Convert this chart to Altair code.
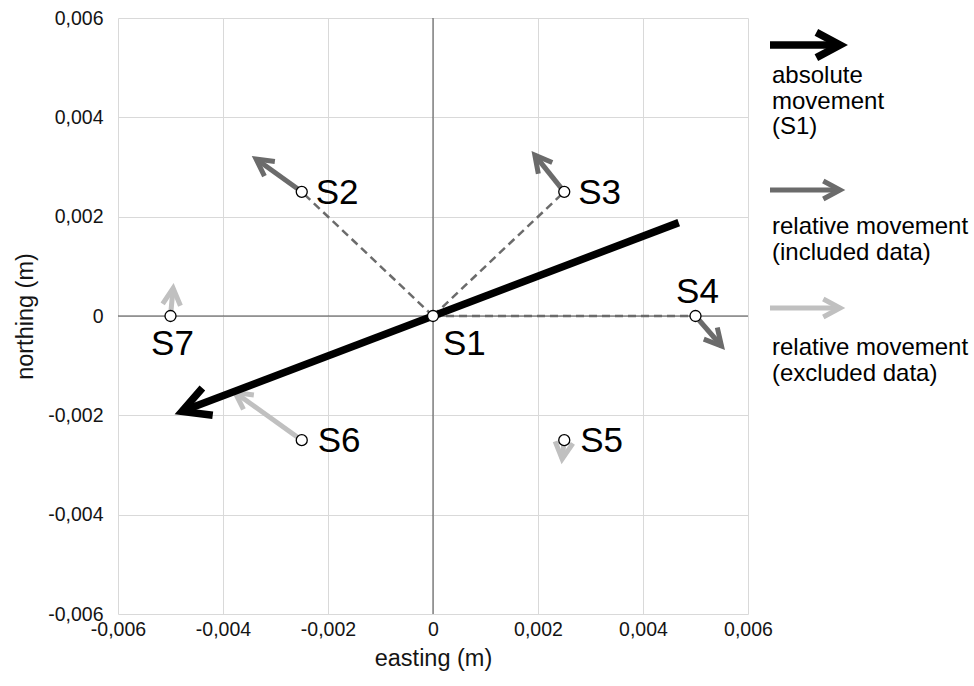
import altair as alt
import pandas as pd

# ---- data -------------------------------------------------------------
stations = ["S1", "S2", "S3", "S4", "S5", "S6", "S7"]
easting = [0.0, -0.0025, 0.0025, 0.005, 0.0025, -0.0025, -0.005]
northing = [0.0, 0.0025, 0.0025, 0.0, -0.0025, -0.0025, 0.0]
# relative movement vectors (m), S1 is the reference station
move_e = [0.0, -0.00087, -0.00056, 0.000495, -0.00004, -0.00127, 0.00005]
move_n = [0.0, 0.00066, 0.00074, -0.000604, -0.00038, 0.00096, 0.00056]
status = ["reference", "included", "included", "included",
          "excluded", "excluded", "excluded"]

# absolute movement of S1, drawn through the station
abs_from = [0.00468, 0.00188]
abs_to = [-0.00478, -0.00192]

tick_values = [-0.006, -0.004, -0.002, 0.0, 0.002, 0.004, 0.006]

legend_labels = ["absolute\nmovement\n(S1)",
                 "relative movement\n(included data)",
                 "relative movement\n(excluded data)"]

# ---- styling / layout ---------------------------------------------------
FONT = "Liberation Sans"
BLACK = "#000000"
DARK = "#6b6b6b"
LIGHT = "#c0c0c0"
GRID = "#d9d9d9"
AXIS_LINE = "#4d4d4d"
TEXT = "#141414"

W, H = 630, 596
PAD = {"left": 118, "top": 18, "right": 226, "bottom": 72}
XMIN, XMAX = tick_values[0], tick_values[-1]
YMIN, YMAX = tick_values[0], tick_values[-1]
KX = W / (XMAX - XMIN)  # px per metre, horizontal
KY = H / (YMAX - YMIN)  # px per metre, vertical

# open arrow head, tip at the origin, pointing up
CHEVRON = "M -0.47 0.88 L 0 0 L 0.47 0.88"
HEAD_REL = 1444   # symbol size of the relative-movement heads
HEAD_ABS = 3844   # symbol size of the absolute-movement head

# legend layout (pixels from the plot origin)
LEG_X0, LEG_X1, LEG_TEXT_X = 652, 722, 654
LEG_ARROW_Y = [27, 172, 290]
LEG_BASELINE = [65, 216, 337]
LEG_FONT = 24
LEG_LINE = 25.5

df = pd.DataFrame({
    "station": stations,
    "east": easting,
    "north": northing,
    "move_e": move_e,
    "move_n": move_n,
    "status": status,
})
df["ref_e"] = easting[0]
df["ref_n"] = northing[0]

abs_df = pd.DataFrame({
    "from_e": [abs_from[0]], "from_n": [abs_from[1]],
    "to_e": [abs_to[0]], "to_n": [abs_to[1]],
})

xs = alt.Scale(domain=[XMIN, XMAX], nice=False, zero=False)
ys = alt.Scale(domain=[YMIN, YMAX], nice=False, zero=False)

label_expr = ("datum.value == 0 ? '0' : (datum.value < 0 ? '-' : '') + "
              "replace(format(abs(datum.value), '.3f'), '.', ',')")

common_axis = dict(
    values=tick_values, labelExpr=label_expr, labelFlush=False,
    labelOverlap=False, grid=True, gridColor=GRID, gridWidth=1,
    domain=False, ticks=False, labelFont=FONT, labelFontSize=19.5,
    labelColor=TEXT, titleFont=FONT, titleFontSize=23.5,
    titleFontWeight="normal", titleColor=TEXT,
)
x_axis = alt.Axis(title="easting (m)", labelPadding=6, titlePadding=8,
                  **common_axis)
y_axis = alt.Axis(title="northing (m)", labelPadding=15, titlePadding=10,
                  **common_axis)

zero_df = pd.DataFrame({"v": [0.0]})

# axis cross lines through the origin
zero_x = alt.Chart(zero_df).mark_rule(color=AXIS_LINE, strokeWidth=1).encode(
    x=alt.X("v:Q", scale=xs, axis=x_axis))
zero_y = alt.Chart(zero_df).mark_rule(color=AXIS_LINE, strokeWidth=1).encode(
    y=alt.Y("v:Q", scale=ys, axis=y_axis))

base = alt.Chart(df)

# dashed connections from S1 to the included stations
dashes = base.transform_filter("datum.status == 'included'").mark_rule(
    color=DARK, strokeWidth=2.5, strokeDash=[8, 5]).encode(
    x=alt.X("ref_e:Q", scale=xs), y=alt.Y("ref_n:Q", scale=ys),
    x2="east:Q", y2="north:Q")

status_color = alt.Color("status:N", scale=alt.Scale(
    domain=["included", "excluded"], range=[DARK, LIGHT]), legend=None)

rel = base.transform_filter("datum.status != 'reference'").transform_calculate(
    head_e="datum.east + datum.move_e",
    head_n="datum.north + datum.move_n",
    ang=f"(atan2(datum.move_e * {KX}, datum.move_n * {KY}) * 180 / PI + 360) % 360",
)
rel_shaft = rel.mark_rule(strokeWidth=5).encode(
    x=alt.X("east:Q", scale=xs), y=alt.Y("north:Q", scale=ys),
    x2="head_e:Q", y2="head_n:Q", color=status_color)
rel_head = rel.mark_point(shape=CHEVRON, filled=False, strokeWidth=5,
                          size=HEAD_REL, opacity=1, strokeJoin="miter",
                          strokeMiterLimit=10).encode(
    x=alt.X("head_e:Q", scale=xs), y=alt.Y("head_n:Q", scale=ys),
    angle=alt.Angle("ang:Q", scale=None), color=status_color)

absb = alt.Chart(abs_df).transform_calculate(
    ang=f"(atan2((datum.to_e - datum.from_e) * {KX}, "
        f"(datum.to_n - datum.from_n) * {KY}) * 180 / PI + 360) % 360")
abs_shaft = absb.mark_rule(strokeWidth=7.5, color=BLACK).encode(
    x=alt.X("from_e:Q", scale=xs), y=alt.Y("from_n:Q", scale=ys),
    x2="to_e:Q", y2="to_n:Q")
abs_head = absb.mark_point(shape=CHEVRON, filled=False, strokeWidth=7.5,
                           size=HEAD_ABS, opacity=1, color=BLACK,
                           strokeJoin="miter", strokeMiterLimit=10).encode(
    x=alt.X("to_e:Q", scale=xs), y=alt.Y("to_n:Q", scale=ys),
    angle=alt.Angle("ang:Q", scale=None))

points = base.mark_point(shape="circle", filled=True, fill="white",
                         stroke="black", strokeWidth=1.3, size=121,
                         opacity=1).encode(
    x=alt.X("east:Q", scale=xs), y=alt.Y("north:Q", scale=ys))

# station labels: (align, baseline, dx, dy)
placement = {
    "S1": ("left", "alphabetic", 10, 39),
    "S2": ("left", "middle", 14, 1),
    "S3": ("left", "middle", 14, 1),
    "S4": ("center", "alphabetic", 2, -13),
    "S5": ("left", "middle", 16, 1),
    "S6": ("left", "middle", 16, 1),
    "S7": ("center", "alphabetic", 2, 39),
}
labels = []
for name, (align, baseline, dx, dy) in placement.items():
    labels.append(
        base.transform_filter(f"datum.station == '{name}'").mark_text(
            font=FONT, fontSize=35, color=BLACK, align=align,
            baseline=baseline, dx=dx, dy=dy).encode(
            x=alt.X("east:Q", scale=xs), y=alt.Y("north:Q", scale=ys),
            text="station:N"))

# custom legend on the right
legend_layers = []
legend_colors = [BLACK, DARK, LIGHT]
for i, (lab, col) in enumerate(zip(legend_labels, legend_colors)):
    width = 7.5 if i == 0 else 5
    size = HEAD_ABS * 0.75 if i == 0 else HEAD_REL
    one = alt.Chart(alt.Data(values=[{"label": lab}]))
    legend_layers.append(one.mark_rule(color=col, strokeWidth=width).encode(
        x=alt.value(LEG_X0), x2=alt.value(LEG_X1), y=alt.value(LEG_ARROW_Y[i])))
    legend_layers.append(one.mark_point(
        shape=CHEVRON, filled=False, strokeWidth=width, size=size, opacity=1,
        color=col, strokeJoin="miter", strokeMiterLimit=10, angle=90).encode(
        x=alt.value(LEG_X1), y=alt.value(LEG_ARROW_Y[i])))
    legend_layers.append(one.mark_text(
        font=FONT, fontSize=LEG_FONT, color=BLACK, align="left",
        baseline="alphabetic", lineBreak="\n", lineHeight=LEG_LINE).encode(
        x=alt.value(LEG_TEXT_X), y=alt.value(LEG_BASELINE[i]),
        text="label:N"))

chart = alt.layer(
    zero_x, zero_y, dashes, rel_shaft, rel_head, abs_shaft, abs_head,
    points, *labels, *legend_layers,
).properties(
    width=W, height=H, padding=PAD,
    autosize=alt.AutoSizeParams(type="none"),
    background="white",
).configure_view(stroke=None)

chart.save("out.html", embed_options={"renderer": "svg", "actions": False})
